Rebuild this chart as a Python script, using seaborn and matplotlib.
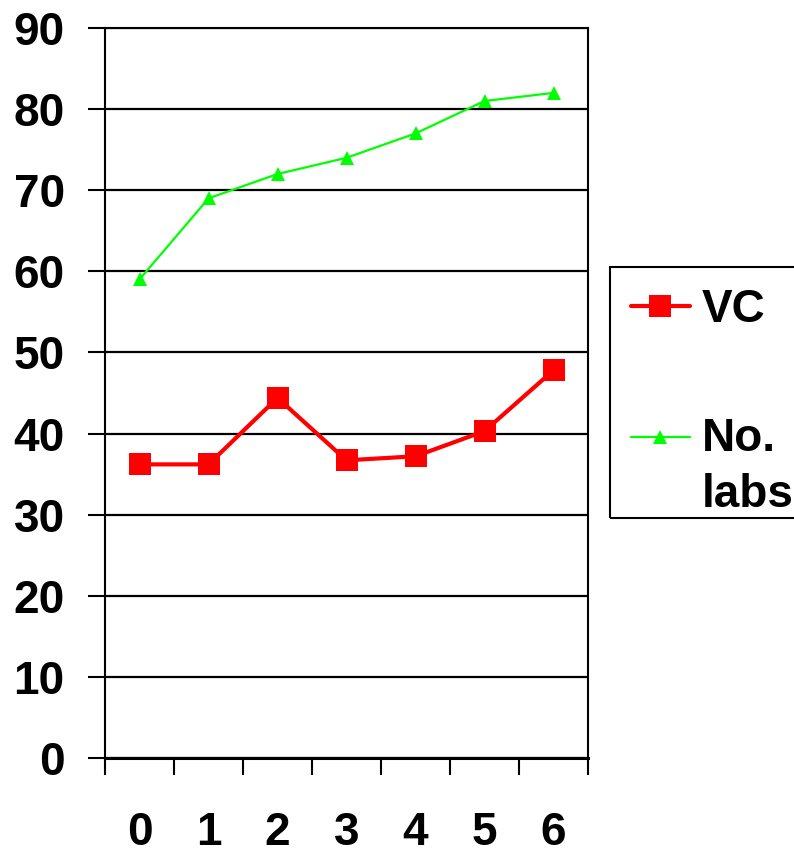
import matplotlib
matplotlib.use("Agg")
import matplotlib.pyplot as plt
from matplotlib.patches import Rectangle
from matplotlib.transforms import Affine2D
import numpy as np
import pandas as pd
import seaborn as sns

# Data
periods = ["0", "1", "2", "3", "4", "5", "6"]
vc = [36.2, 36.2, 44.4, 36.7, 37.2, 40.3, 47.8]
no_labs = [59, 69, 72, 74, 77, 81, 82]
y_ticks = [0, 10, 20, 30, 40, 50, 60, 70, 80, 90]

sns.set_style("white")
plt.rcParams["font.family"] = ["Liberation Sans", "DejaVu Sans"]
plt.rcParams["font.weight"] = "bold"
plt.rcParams["text.color"] = "black"
plt.rcParams["xtick.color"] = "black"
plt.rcParams["ytick.color"] = "black"
plt.rcParams["axes.labelcolor"] = "black"

df = pd.DataFrame({"pos": np.arange(len(periods)), "VC": vc, "No.\nlabs": no_labs})

fig = plt.figure(figsize=(7.94, 8.51), dpi=100)
ax = fig.add_axes([105 / 794, 1 - 758 / 851, (588 - 105) / 794, (758 - 28) / 851])

sns.lineplot(data=df, x="pos", y="VC", ax=ax, color="#ff0000", lw=3,
             marker="s", markersize=16, markeredgewidth=0, label="VC")
sns.lineplot(data=df, x="pos", y="No.\nlabs", ax=ax, color="#00ff00", lw=1.6,
             marker="^", markersize=10, markeredgewidth=0, label="No.\nlabs")

ax.set_xlim(-0.5, len(periods) - 0.5)
ax.set_ylim(0, 90)
ax.set_xlabel("")
ax.set_ylabel("")

# Category labels at the centres, tick marks at the boundaries
ax.set_xticks(np.arange(len(periods)))
ax.set_xticklabels(periods)
ax.set_xticks(np.arange(len(periods) + 1) - 0.5, minor=True)
ax.tick_params(axis="x", which="major", length=0, pad=38, labelsize=33,
               labelcolor="black")
ax.tick_params(axis="x", which="minor", length=12, width=1.5, direction="out",
               color="black", bottom=True)

ax.set_yticks(y_ticks)
ax.tick_params(axis="y", which="major", length=12, width=1.5, direction="out",
               color="black", pad=17, labelsize=33, left=True, labelcolor="black")
for lab in ax.get_xticklabels() + ax.get_yticklabels():
    lab.set_fontweight("bold")

ax.yaxis.grid(True, color="black", lw=1.6)
ax.xaxis.grid(False)
for side, sp in ax.spines.items():
    sp.set_visible(True)
    sp.set_color("black")
    sp.set_linewidth(1.5)
ax.spines["bottom"].set_linewidth(2.2)

leg = ax.legend(loc="upper left", bbox_to_anchor=(610 / 794, 1 - 267 / 851),
                bbox_transform=fig.transFigure, borderaxespad=0,
                frameon=False,
                prop={"family": "Liberation Sans", "weight": "bold", "size": 33},
                handlelength=1.3, handletextpad=0.26, labelspacing=1.87,
                borderpad=0.45)
for t in leg.get_texts():
    t.set_color("black")
leg.get_texts()[1].set_linespacing(1.35)
# lift the second handle to sit beside the first text line
h = leg.legend_handles[1]
h.set_transform(h.get_transform() + Affine2D().translate(0, 31))

# legend box
fig.patches.append(Rectangle((610 / 794, 1 - 518 / 851), 200 / 794, (518 - 267) / 851,
                             transform=fig.transFigure, fill=False,
                             edgecolor="black", lw=1.5, zorder=5))

fig.savefig("out.png", dpi=100)
